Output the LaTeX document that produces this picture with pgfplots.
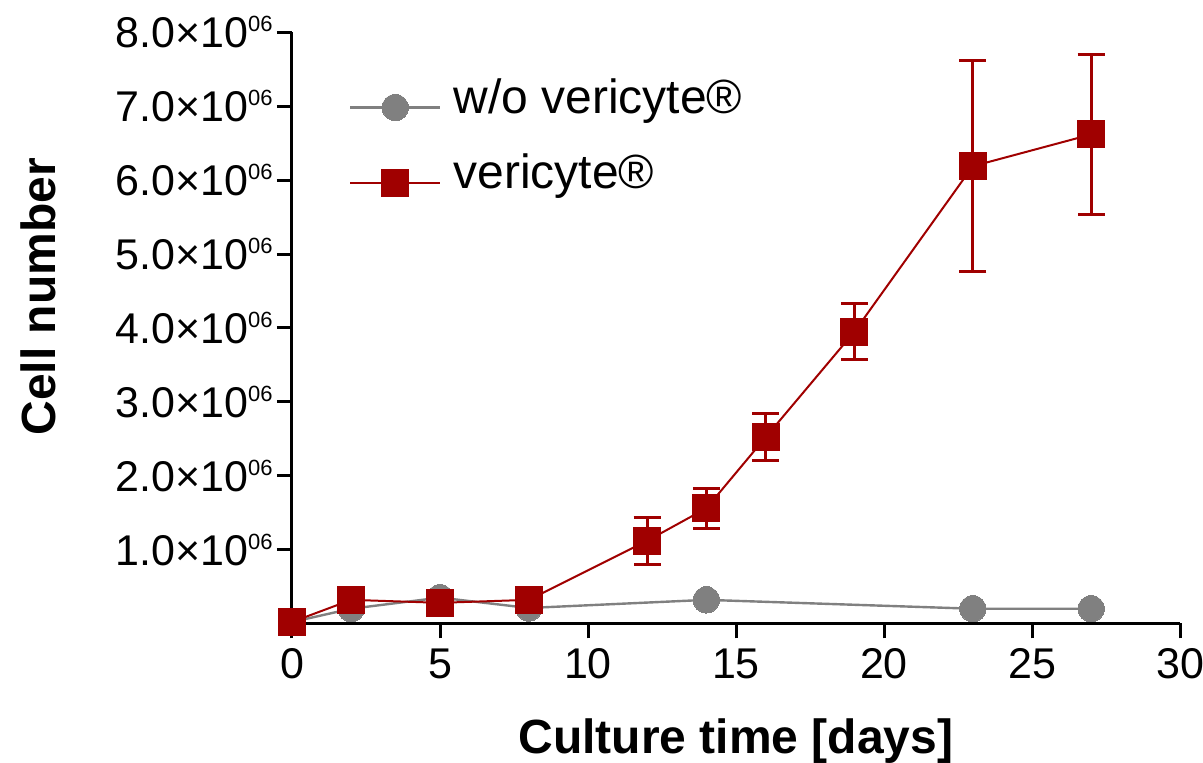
\documentclass[border=0pt]{standalone}
\usepackage{fontspec}
\setmainfont{Liberation Sans}
\usepackage{pgfplots}
\pgfplotsset{compat=1.18}
\definecolor{vred}{RGB}{160,0,0}
\definecolor{vgray}{RGB}{128,128,128}
\newcommand{\sci}[1]{#1.0\texttimes10\raisebox{8pt}{\fontsize{11pt}{13pt}\selectfont 06}}
\begin{document}
\begin{tikzpicture}
\path[use as bounding box] (-146pt,-69.75pt) rectangle (455.5pt,311.75pt);
\begin{axis}[
  scale only axis,
  width=444pt, height=295.5pt,
  xmin=0, xmax=30, ymin=0, ymax=8,
  axis x line*=bottom, axis y line*=left,
  axis line style={-, line width=1.5pt, black},
  tick style={line width=1.5pt, black},
  tick align=outside,
  major tick length=7.5pt,
  xtick={0,5,10,15,20,25,30},
  ytick={1,2,3,4,5,6,7,8},
  yticklabels={\sci{1},\sci{2},\sci{3},\sci{4},\sci{5},\sci{6},\sci{7},\sci{8}},
  /pgf/number format/assume math mode=true,
  ticklabel style={font=\fontsize{21.5pt}{25pt}\selectfont},
  yticklabel style={inner sep=2pt},
  xticklabel style={inner sep=2pt, yshift=-3pt},
  xlabel={Culture time [days]},
  ylabel={Cell number},
  label style={font=\fontsize{24pt}{28pt}\selectfont\bfseries},
  xlabel style={at={(axis description cs:0.5,0)}, anchor=base, yshift=-65.25pt},
  ylabel style={at={(axis description cs:-0.286,0.553)}, anchor=center},
  clip=false,
  legend cell align=left,
  legend style={at={(axis description cs:0.057,0.905)}, anchor=north west, draw=none, fill=none,
    font=\fontsize{24pt}{28pt}\selectfont, row sep=23pt,
    nodes={inner sep=2pt, text height=0.8em, text depth=0.25em},
    /tikz/every odd column/.append style={column sep=4pt}},
  legend image code/.code={\draw[mark repeat=2, mark phase=2] plot coordinates {(0pt,0pt) (22.5pt,0pt) (45pt,0pt)};},
]
\addplot[color=vgray, line width=1.2pt, mark=*, mark size=6.6pt, mark options={solid, fill=vgray, draw=vgray, line width=0pt}]
  coordinates {(0,0.02) (2,0.2) (5,0.35) (8,0.21) (14,0.32) (23,0.2) (27,0.2)};
\addlegendentry{w/o vericyte®}
\addplot[color=vred, line width=1pt, mark=square*, mark size=6.75pt, mark options={solid, fill=vred, draw=vred, line width=0pt},
  error bars/.cd, y dir=both, y explicit, error bar style={line width=1.5pt, vred},
  error mark options={rotate=90, mark size=6.75pt, line width=1.5pt, vred}]
  coordinates {(0,0.02) +- (0,0) (2,0.32) +- (0,0) (5,0.28) +- (0,0) (8,0.32) +- (0,0)
    (12,1.12) +- (0,0.32) (14,1.56) +- (0,0.27) (16,2.52) +- (0,0.32) (19,3.95) +- (0,0.38)
    (23,6.19) +- (0,1.43) (27,6.62) +- (0,1.08)};
\addlegendentry{vericyte®}
\end{axis}
\end{tikzpicture}
\end{document}
